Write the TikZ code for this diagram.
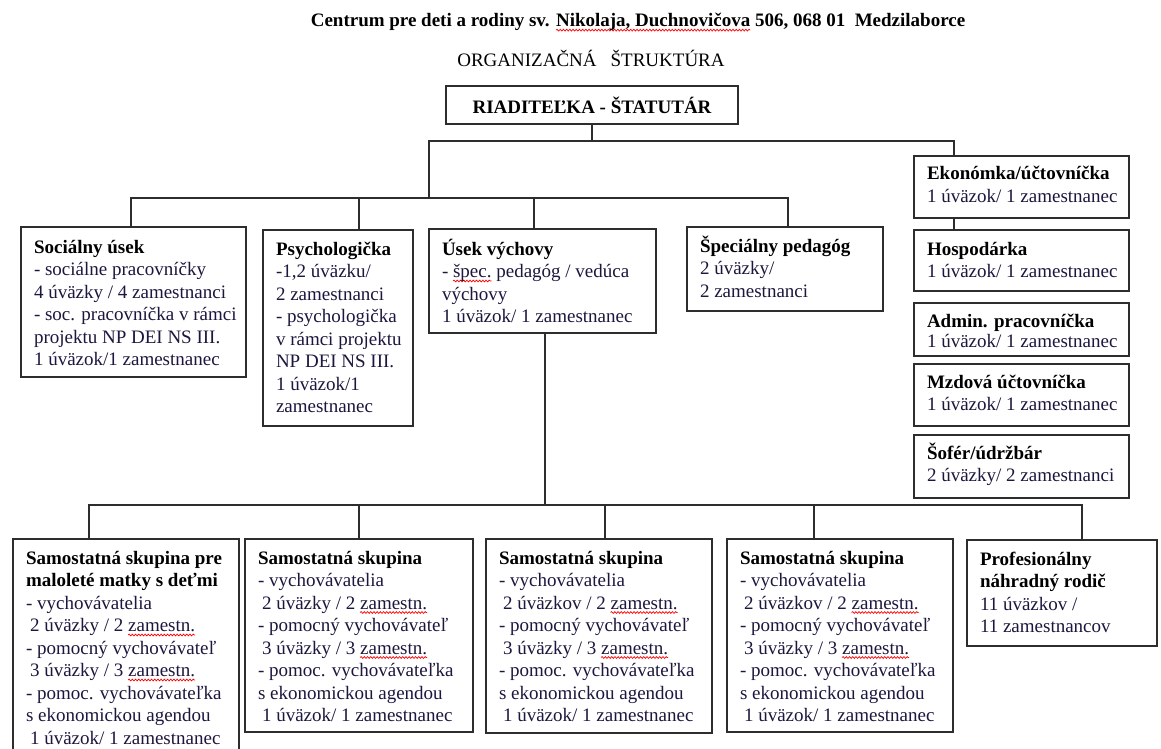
\documentclass[tikz,border=0pt]{standalone}
\usepackage{fontspec}
\setmainfont{Liberation Serif}
\usetikzlibrary{calc,decorations.pathmorphing}
\definecolor{bodytxt}{RGB}{30,22,62}
\definecolor{linec}{RGB}{45,45,45}
\newsavebox\wbox
\newcommand\rwave[1]{\sbox\wbox{#1}\tikz[overlay,x=1pt,y=1pt]\draw[red,line width=0.7pt,decorate,decoration={snake,amplitude=0.9pt,segment length=3.2pt}] (0,-3.5) -- (\the\wd\wbox,-3.5);\usebox\wbox}
\newcommand\hd[1]{{\bfseries\color{black}#1}}
\newcommand\lne[1]{\mbox{#1}}
% name, x, y, w, h, first baseline, content
\newcommand\obox[7]{\node[bx] (#1) at (#2,#3) {\parbox[t][#5pt][t]{\dimexpr #4pt-26pt\relax}{\fontsize{19}{22.5}\selectfont\color{bodytxt}\rule{0pt}{#6pt}#7}};}
\tikzset{
  bx/.style={draw=linec, line width=1.6pt, anchor=north west, inner xsep=13pt, inner ysep=0pt, outer sep=0pt},
  conn/.style={draw=linec, line width=1.6pt},
}
\begin{document}
\begin{tikzpicture}[x=1pt,y=-1pt]
\fill[white] (0,0) rectangle (1161,749);
\useasboundingbox (0,0) rectangle (1161,749);
\node (title) at (638,22) {\fontsize{19}{22}\selectfont\bfseries Centrum pre deti a rodiny sv. \rwave{Nikolaja, Duchnovičova} 506, 068 01\ \ Medzilaborce};
\node (sub) at (591,58) {\fontsize{19}{22}\selectfont ORGANIZAČNÁ\hspace{14pt}ŠTRUKTÚRA};
\node[draw=linec, line width=1.6pt, minimum width=292pt, minimum height=38pt, inner sep=0pt] (root) at (592,105) {\fontsize{19}{22}\selectfont\bfseries RIADITEĽKA - ŠTATUTÁR};

\obox{soc}{21}{227}{225}{150}{26}{\hd{Sociálny úsek}\\\lne{- sociálne pracovníčky}\\\lne{4 úväzky / 4 zamestnanci}\\\lne{- soc. pracovníčka v rámci}\\\lne{projektu NP DEI NS III.}\\\lne{1 úväzok/1 zamestnanec}}
\obox{psy}{263}{230}{150}{196}{25}{\hd{Psychologička}\\\lne{-1,2 úväzku/}\\\lne{2 zamestnanci}\\\lne{- psychologička}\\\lne{v rámci projektu}\\\lne{NP DEI NS III.}\\\lne{1 úväzok/1}\\\lne{zamestnanec}}
\obox{usek}{429}{229}{227}{104}{26}{\hd{Úsek výchovy}\\\lne{- \rwave{špec.} pedagóg / vedúca}\\\lne{výchovy}\\\lne{1 úväzok/ 1 zamestnanec}}
\obox{spec}{687}{227}{196}{84}{25}{\hd{Špeciálny pedagóg}\\\lne{2 úväzky/}\\\lne{2 zamestnanci}}
\obox{eko}{914}{156}{215}{62}{24}{\hd{Ekonómka/účtovníčka}\\\lne{1 úväzok/ 1 zamestnanec}}
\obox{hosp}{914}{230}{215}{61}{25}{\hd{Hospodárka}\\\lne{1 úväzok/ 1 zamestnanec}}
\obox{admin}{914}{303}{215}{53}{24}{\setlength\baselineskip{20pt}\hd{Admin. pracovníčka}\\\lne{1 úväzok/ 1 zamestnanec}}
\obox{mzd}{914}{364}{215}{62}{24}{\hd{Mzdová účtovníčka}\\\lne{1 úväzok/ 1 zamestnanec}}
\obox{sofer}{914}{435}{215}{63}{24}{\hd{Šofér/údržbár}\\\lne{2 úväzky/ 2 zamestnanci}}

\obox{s1}{13}{539}{226}{230}{25}{\hd{Samostatná skupina pre}\\\hd{maloleté matky s deťmi}\\\lne{- vychovávatelia}\\\lne{\hspace*{4pt}2 úväzky / 2 \rwave{zamestn.}}\\\lne{- pomocný vychovávateľ}\\\lne{\hspace*{4pt}3 úväzky / 3 \rwave{zamestn.}}\\\lne{- pomoc. vychovávateľka}\\\lne{s ekonomickou agendou}\\\lne{\hspace*{4pt}1 úväzok/ 1 zamestnanec}}
\obox{s2}{245}{539}{228}{193}{25}{\hd{Samostatná skupina}\\\lne{- vychovávatelia}\\\lne{\hspace*{4pt}2 úväzky / 2 \rwave{zamestn.}}\\\lne{- pomocný vychovávateľ}\\\lne{\hspace*{4pt}3 úväzky / 3 \rwave{zamestn.}}\\\lne{- pomoc. vychovávateľka}\\\lne{s ekonomickou agendou}\\\lne{\hspace*{4pt}1 úväzok/ 1 zamestnanec}}
\obox{s3}{486}{539}{226}{194}{25}{\hd{Samostatná skupina}\\\lne{- vychovávatelia}\\\lne{\hspace*{4pt}2 úväzkov / 2 \rwave{zamestn.}}\\\lne{- pomocný vychovávateľ}\\\lne{\hspace*{4pt}3 úväzky / 3 \rwave{zamestn.}}\\\lne{- pomoc. vychovávateľka}\\\lne{s ekonomickou agendou}\\\lne{\hspace*{4pt}1 úväzok/ 1 zamestnanec}}
\obox{s4}{727}{539}{226}{193}{25}{\hd{Samostatná skupina}\\\lne{- vychovávatelia}\\\lne{\hspace*{4pt}2 úväzkov / 2 \rwave{zamestn.}}\\\lne{- pomocný vychovávateľ}\\\lne{\hspace*{4pt}3 úväzky / 3 \rwave{zamestn.}}\\\lne{- pomoc. vychovávateľka}\\\lne{s ekonomickou agendou}\\\lne{\hspace*{4pt}1 úväzok/ 1 zamestnanec}}
\obox{s5}{967}{540}{190}{106}{25}{\hd{Profesionálny}\\\hd{náhradný rodič}\\\lne{11 úväzkov /}\\\lne{11 zamestnancov}}

% connectors
\coordinate (t1) at (429,141);
\coordinate (t2) at (954,141);
\coordinate (ml) at (429,198);
\coordinate (m1) at (131,198);
\coordinate (mp) at (359,198);
\coordinate (mu) at (534,198);
\coordinate (m2) at (788,198);
\draw[conn] (root.south) -- (root.south |- t1);
\draw[conn] (ml) -- (t1) -- (t2) -- (t2 |- eko.north);
\draw[conn] (m1 |- soc.north) -- (m1) -- (m2) -- (m2 |- spec.north);
\draw[conn] (mp) -- (mp |- psy.north);
\draw[conn] (mu) -- (mu |- usek.north);
\draw[conn] (t2 |- eko.south) -- (t2 |- hosp.north);

\coordinate (b0) at (545,505);
\coordinate (b1) at (89,505);
\coordinate (b2) at (359,505);
\coordinate (b3) at (605,505);
\coordinate (b4) at (814,505);
\coordinate (b5) at (1082,505);
\draw[conn] (b0 |- usek.south) -- (b0);
\draw[conn] (b1 |- s1.north) -- (b1) -- (b5) -- (b5 |- s5.north);
\draw[conn] (b2) -- (b2 |- s2.north);
\draw[conn] (b3) -- (b3 |- s3.north);
\draw[conn] (b4) -- (b4 |- s4.north);
\end{tikzpicture}
\end{document}
